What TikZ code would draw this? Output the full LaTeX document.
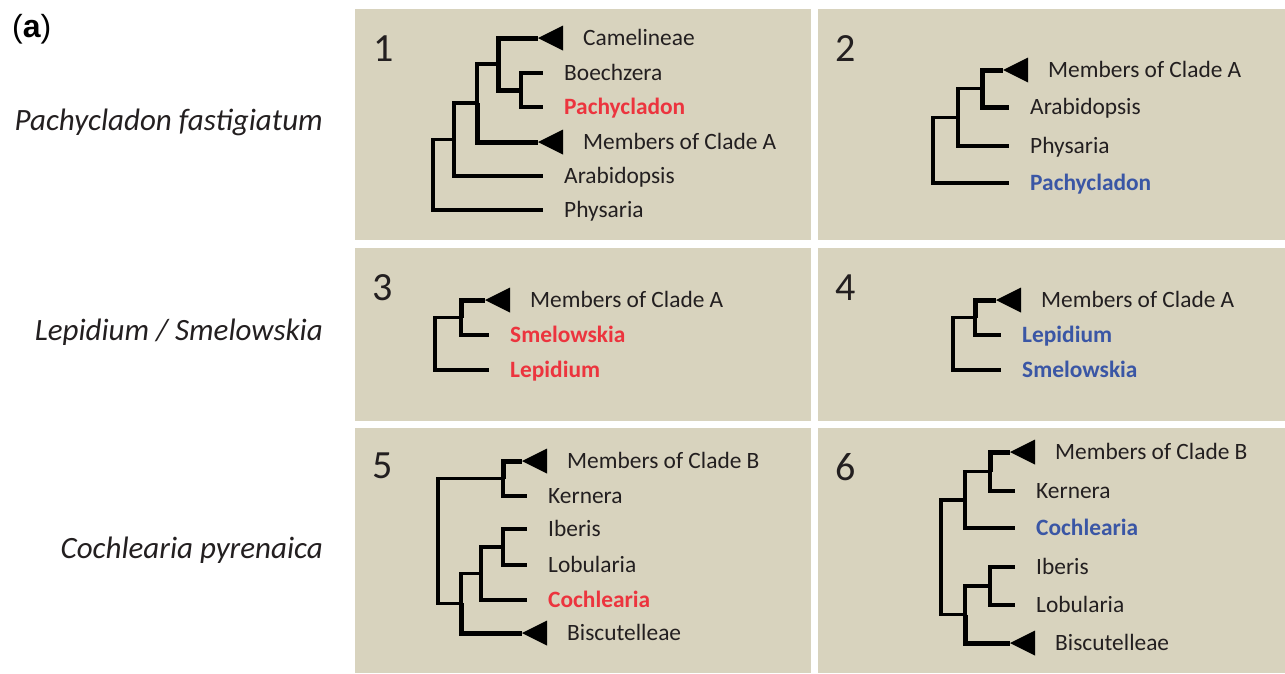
\documentclass[tikz,border=0pt]{standalone}
\usepackage{fontspec}
\setmainfont{Carlito}
\newfontfamily\labelfont{Liberation Sans}
\usepackage{tikz}
\usetikzlibrary{positioning}
\definecolor{panelbg}{RGB}{216,211,190}
\definecolor{txt}{RGB}{35,31,32}
\definecolor{hired}{RGB}{236,52,62}
\definecolor{hiblue}{RGB}{58,86,165}
\newcommand\cladetri[1]{\fill[black] (#1.west) -- ++(25,-12.5) -- ++(0,25) -- cycle;}

\begin{document}
\begin{tikzpicture}[x=1pt,y=-1pt,
    branch/.style={line width=3.5pt},
    thickbranch/.style={line width=5pt},
    taxon/.style={anchor=west,inner ysep=0pt,inner xsep=21pt,text height=15pt,text depth=0pt,text=txt,font=\fontsize{23.4}{28}\selectfont},
    clade/.style={taxon,inner xsep=45pt},
    redtaxon/.style={taxon,text=hired,font=\fontsize{23.4}{28}\selectfont\bfseries},
    bluetaxon/.style={taxon,text=hiblue,font=\fontsize{23.4}{28}\selectfont\bfseries},
    panelno/.style={inner sep=0pt,text=txt,font=\fontsize{40}{48}\selectfont},
    species/.style={anchor=base east,inner sep=0pt,text=txt,font=\fontsize{31}{37}\selectfont\itshape}]
    \useasboundingbox (0,0) rectangle (1285,673);

    \fill[panelbg] (355,9) rectangle (811,240);
    \fill[panelbg] (818,9) rectangle (1285,240);
    \fill[panelbg] (355,248) rectangle (811,421);
    \fill[panelbg] (818,248) rectangle (1285,421);
    \fill[panelbg] (355,428) rectangle (811,673);
    \fill[panelbg] (818,428) rectangle (1285,673);

    \node (tag)[anchor=base west,inner sep=0pt,font=\labelfont\fontsize{32}{38}\selectfont] at (12,37) {({\bfseries a})};
    \node (sppachy)[species] at (323,130) {Pachycladon fastigiatum};
    \node (splepid)[species] at (323,340) {Lepidium / Smelowskia};
    \node (spcochl)[species] at (323,558) {Cochlearia pyrenaica};

    \node (no1)[panelno] at (384,49) {1};
    \node (no2)[panelno] at (846,49) {2};
    \node (no3)[panelno] at (383,288) {3};
    \node (no4)[panelno] at (846,288) {4};
    \node (no5)[panelno] at (383,466) {5};
    \node (no6)[panelno] at (846,467) {6};

    \node (camel1)[clade] at (538,38) {Camelineae};
    \node (boech1)[taxon] at (543,73) {Boechzera};
    \node (pachy1)[redtaxon] at (543,107) {Pachycladon};
    \node (cladeA1)[clade] at (538,142) {Members of Clade A};
    \node (arab1)[taxon] at (543,176) {Arabidopsis};
    \node (phys1)[taxon] at (543,210) {Physaria};
    \coordinate (d1) at (521,90);
    \coordinate (c1) at (498,64);
    \coordinate (b1) at (477,103);
    \coordinate (a1) at (454,139.5);
    \coordinate (r1) at (433,174.75);
    \draw[thickbranch] (c1) |- (camel1.west);
    \draw[thickbranch] (c1) |- (d1);
    \draw[branch] (d1) |- (boech1.west);
    \draw[branch] (d1) |- (pachy1.west);
    \draw[branch] (b1) |- (c1);
    \draw[thickbranch] (b1) |- (cladeA1.west);
    \draw[branch] (a1) |- (b1);
    \draw[branch] (a1) |- (arab1.west);
    \draw[branch] (r1) |- (a1);
    \draw[branch] (r1) |- (phys1.west);
    \cladetri{camel1}
    \cladetri{cladeA1}

    \node (cladeA2)[clade] at (1003,70) {Members of Clade A};
    \node (arab2)[taxon] at (1009,107) {Arabidopsis};
    \node (phys2)[taxon] at (1009,146) {Physaria};
    \node (pachy2)[bluetaxon] at (1009,183) {Pachycladon};
    \coordinate (a2) at (982,88.5);
    \coordinate (b2) at (958,117.25);
    \coordinate (r2) at (933,150);
    \draw[thickbranch] (a2) |- (cladeA2.west);
    \draw[thickbranch] (a2) |- (arab2.west);
    \draw[branch] (b2) |- (a2);
    \draw[branch] (b2) |- (phys2.west);
    \draw[branch] (r2) |- (b2);
    \draw[branch] (r2) |- (pachy2.west);
    \cladetri{cladeA2}

    \node (cladeA3)[clade] at (485,300) {Members of Clade A};
    \node (smel3)[redtaxon] at (489,335) {Smelowskia};
    \node (lep3)[redtaxon] at (489,370) {Lepidium};
    \coordinate (a3) at (461,317.5);
    \coordinate (r3) at (435,343.75);
    \draw[thickbranch] (a3) |- (cladeA3.west);
    \draw[branch] (a3) |- (smel3.west);
    \draw[branch] (r3) |- (a3);
    \draw[branch] (r3) |- (lep3.west);
    \cladetri{cladeA3}

    \node (cladeA4)[clade] at (996,300) {Members of Clade A};
    \node (lep4)[bluetaxon] at (1001,335) {Lepidium};
    \node (smel4)[bluetaxon] at (1001,370) {Smelowskia};
    \coordinate (a4) at (975,317.5);
    \coordinate (r4) at (953,343.75);
    \draw[thickbranch] (a4) |- (cladeA4.west);
    \draw[branch] (a4) |- (lep4.west);
    \draw[branch] (r4) |- (a4);
    \draw[branch] (r4) |- (smel4.west);
    \cladetri{cladeA4}

    \node (cladeB5)[clade] at (522,461) {Members of Clade B};
    \node (kern5)[taxon] at (527,496) {Kernera};
    \node (iber5)[taxon] at (527,529) {Iberis};
    \node (lobu5)[taxon] at (527,565) {Lobularia};
    \node (coch5)[redtaxon] at (527,600) {Cochlearia};
    \node (bisc5)[clade] at (522,633) {Biscutelleae};
    \coordinate (k5) at (503,478.5);
    \coordinate (il5) at (503,547);
    \coordinate (ilc5) at (481,573.5);
    \coordinate (ilcb5) at (461,603.25);
    \coordinate (r5) at (438,540.9);
    \draw[thickbranch] (k5) |- (cladeB5.west);
    \draw[branch] (k5) |- (kern5.west);
    \draw[branch] (il5) |- (iber5.west);
    \draw[branch] (il5) |- (lobu5.west);
    \draw[branch] (ilc5) |- (il5);
    \draw[branch] (ilc5) |- (coch5.west);
    \draw[branch] (ilcb5) |- (ilc5);
    \draw[thickbranch] (ilcb5) |- (bisc5.west);
    \draw[branch] (r5) |- (k5);
    \draw[branch] (r5) |- (ilcb5);
    \cladetri{cladeB5}
    \cladetri{bisc5}

    \node (cladeB6)[clade] at (1010,452) {Members of Clade B};
    \node (kern6)[taxon] at (1015,491) {Kernera};
    \node (coch6)[bluetaxon] at (1015,528) {Cochlearia};
    \node (iber6)[taxon] at (1015,567) {Iberis};
    \node (lobu6)[taxon] at (1015,605) {Lobularia};
    \node (bisc6)[clade] at (1010,643) {Biscutelleae};
    \coordinate (k6) at (990,471.5);
    \coordinate (kc6) at (965,499.75);
    \coordinate (il6) at (990,586);
    \coordinate (ilb6) at (965,614.5);
    \coordinate (r6) at (941,557);
    \draw[thickbranch] (k6) |- (cladeB6.west);
    \draw[branch] (k6) |- (kern6.west);
    \draw[branch] (kc6) |- (k6);
    \draw[branch] (kc6) |- (coch6.west);
    \draw[branch] (il6) |- (iber6.west);
    \draw[branch] (il6) |- (lobu6.west);
    \draw[branch] (ilb6) |- (il6);
    \draw[thickbranch] (ilb6) |- (bisc6.west);
    \draw[branch] (r6) |- (kc6);
    \draw[branch] (r6) |- (ilb6);
    \cladetri{cladeB6}
    \cladetri{bisc6}
\end{tikzpicture}
\end{document}
